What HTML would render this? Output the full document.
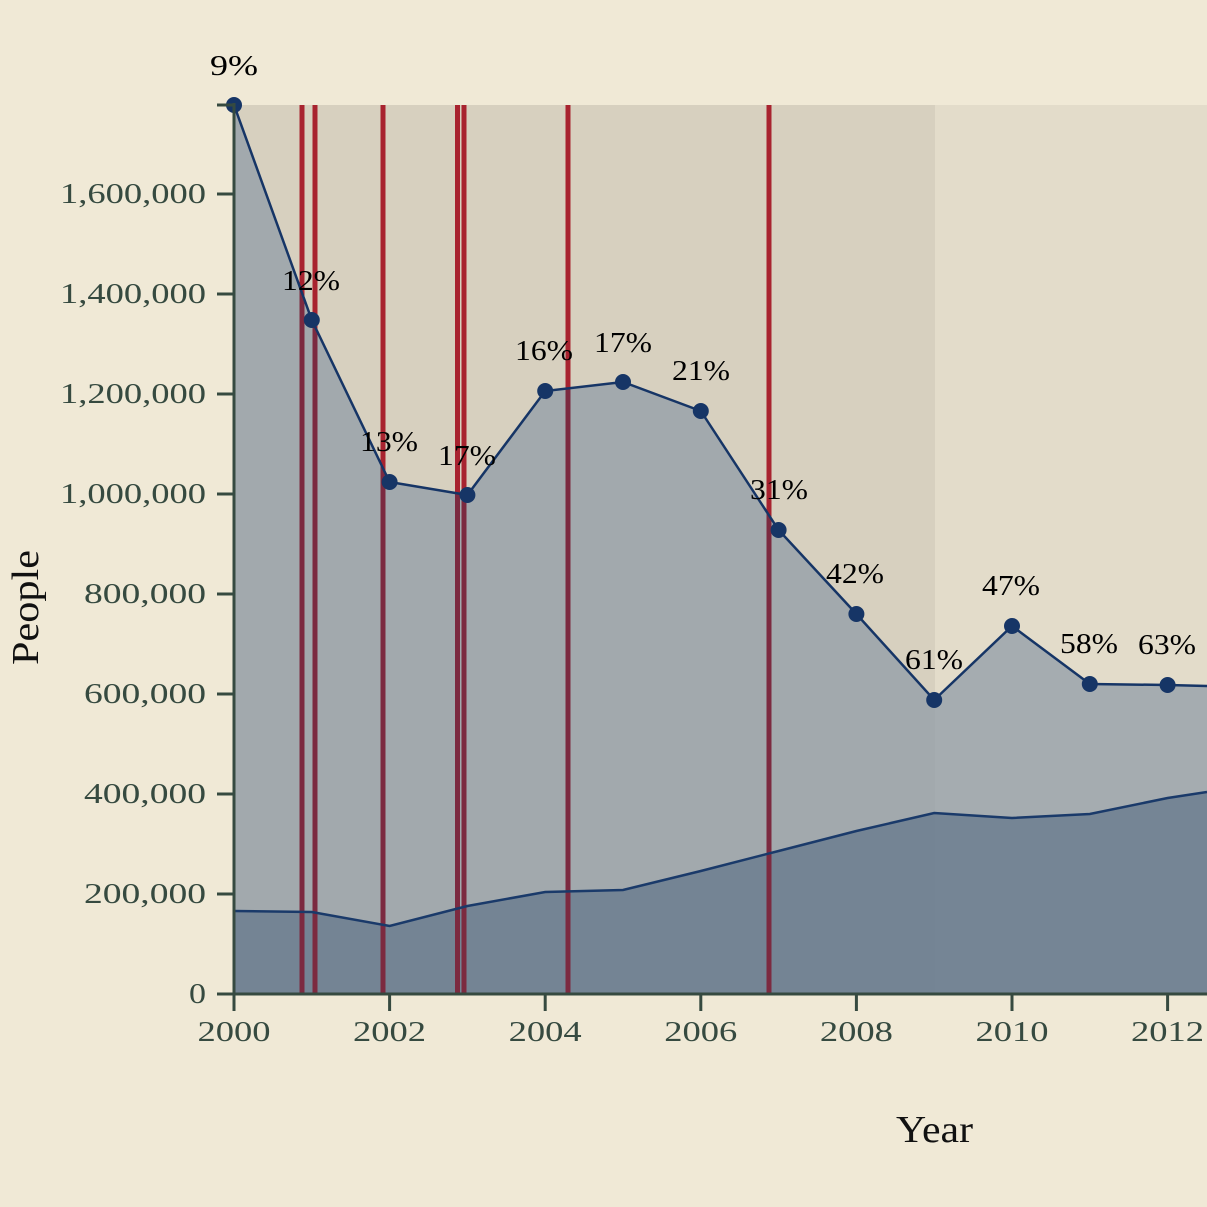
<!DOCTYPE html>
<html><head><meta charset="utf-8"><style>
html,body{margin:0;padding:0;background:#f0e9d6;}
svg{display:block;font-family:"Liberation Serif",serif;}
</style></head><body>
<svg width="1207" height="1207" viewBox="0 0 1207 1207">
<defs>
<clipPath id="up"><polygon points="234,105 311.8,320 389.6,482 467.4,495 545.2,391 623,382 700.8,411 778.6,530 856.4,614 934.2,700 1012,626 1089.8,684 1167.6,685 1207,686 1207,994 234,994"/></clipPath>
</defs>
<rect width="1207" height="1207" fill="#f0e9d6"/>
<rect x="234" y="105" width="701" height="889" fill="#d7d0bf"/>
<rect x="935" y="105" width="272" height="889" fill="#e3dcca"/>
<g fill="#a8232f">
<rect x="299.5" y="105" width="5" height="889"/>
<rect x="312.5" y="105" width="5" height="889"/>
<rect x="380.5" y="105" width="5" height="889"/>
<rect x="455" y="105" width="5" height="889"/>
<rect x="461.5" y="105" width="5" height="889"/>
<rect x="565.5" y="105" width="5" height="889"/>
<rect x="766.5" y="105" width="5" height="889"/>
</g>
<polygon points="234,105 311.8,320 389.6,482 467.4,495 545.2,391 623,382 700.8,411 778.6,530 856.4,614 934.2,700 1012,626 1089.8,684 1167.6,685 1207,686 1207,994 234,994" fill="#8e9aa6" opacity="0.72"/>
<polygon points="234,911 311.8,912 389.6,926 467.4,906 545.2,892 623,890 700.8,871 778.6,851 856.4,831 934.2,813 1012,818 1089.8,814 1167.6,798 1207,792 1207,994 234,994" fill="#4f6680" opacity="0.55"/>
<g fill="#7c2a40" clip-path="url(#up)">
<rect x="299.5" y="105" width="5" height="889"/>
<rect x="312.5" y="105" width="5" height="889"/>
<rect x="380.5" y="105" width="5" height="889"/>
<rect x="455" y="105" width="5" height="889"/>
<rect x="461.5" y="105" width="5" height="889"/>
<rect x="565.5" y="105" width="5" height="889"/>
<rect x="766.5" y="105" width="5" height="889"/>
</g>
<polyline points="234,911 311.8,912 389.6,926 467.4,906 545.2,892 623,890 700.8,871 778.6,851 856.4,831 934.2,813 1012,818 1089.8,814 1167.6,798 1207,792" fill="none" stroke="#1a3a6a" stroke-width="2.5"/>
<polyline points="234,105 311.8,320 389.6,482 467.4,495 545.2,391 623,382 700.8,411 778.6,530 856.4,614 934.2,700 1012,626 1089.8,684 1167.6,685 1207,686" fill="none" stroke="#163566" stroke-width="2.5"/>
<g fill="#163566">
<circle cx="234" cy="105" r="8"/><circle cx="311.8" cy="320" r="8"/><circle cx="389.6" cy="482" r="8"/><circle cx="467.4" cy="495" r="8"/><circle cx="545.2" cy="391" r="8"/><circle cx="623" cy="382" r="8"/><circle cx="700.8" cy="411" r="8"/><circle cx="778.6" cy="530" r="8"/><circle cx="856.4" cy="614" r="8"/><circle cx="934.2" cy="700" r="8"/><circle cx="1012" cy="626" r="8"/><circle cx="1089.8" cy="684" r="8"/><circle cx="1167.6" cy="685" r="8"/>
</g>
<g stroke="#364a40" stroke-width="3">
<line x1="234" y1="103" x2="234" y2="995"/>
<line x1="233" y1="994" x2="1207" y2="994"/>
<line x1="217" y1="105" x2="234" y2="105"/>
<line x1="217" y1="194" x2="234" y2="194"/><line x1="217" y1="294" x2="234" y2="294"/><line x1="217" y1="394" x2="234" y2="394"/><line x1="217" y1="494" x2="234" y2="494"/><line x1="217" y1="594" x2="234" y2="594"/><line x1="217" y1="694" x2="234" y2="694"/><line x1="217" y1="794" x2="234" y2="794"/><line x1="217" y1="894" x2="234" y2="894"/><line x1="217" y1="994" x2="234" y2="994"/>
<line x1="234" y1="994" x2="234" y2="1011"/><line x1="389.6" y1="994" x2="389.6" y2="1011"/><line x1="545.2" y1="994" x2="545.2" y2="1011"/><line x1="700.8" y1="994" x2="700.8" y2="1011"/><line x1="856.4" y1="994" x2="856.4" y2="1011"/><line x1="1012" y1="994" x2="1012" y2="1011"/><line x1="1167.6" y1="994" x2="1167.6" y2="1011"/>
</g>
<g fill="#364a40" font-size="28" lengthAdjust="spacingAndGlyphs">
<text x="60" y="203" textLength="146" lengthAdjust="spacingAndGlyphs">1,600,000</text><text x="60" y="303" textLength="146" lengthAdjust="spacingAndGlyphs">1,400,000</text><text x="60" y="403" textLength="146" lengthAdjust="spacingAndGlyphs">1,200,000</text><text x="60" y="503" textLength="146" lengthAdjust="spacingAndGlyphs">1,000,000</text><text x="84" y="603" textLength="122" lengthAdjust="spacingAndGlyphs">800,000</text><text x="84" y="703" textLength="122" lengthAdjust="spacingAndGlyphs">600,000</text><text x="84" y="803" textLength="122" lengthAdjust="spacingAndGlyphs">400,000</text><text x="84" y="903" textLength="122" lengthAdjust="spacingAndGlyphs">200,000</text><text x="189" y="1003" textLength="17" lengthAdjust="spacingAndGlyphs">0</text>
</g>
<g fill="#364a40" font-size="28">
<text x="197.5" y="1041" textLength="73" lengthAdjust="spacingAndGlyphs">2000</text><text x="353" y="1041" textLength="73" lengthAdjust="spacingAndGlyphs">2002</text><text x="508.7" y="1041" textLength="73" lengthAdjust="spacingAndGlyphs">2004</text><text x="664.3" y="1041" textLength="73" lengthAdjust="spacingAndGlyphs">2006</text><text x="819.9" y="1041" textLength="73" lengthAdjust="spacingAndGlyphs">2008</text><text x="975.5" y="1041" textLength="73" lengthAdjust="spacingAndGlyphs">2010</text><text x="1131" y="1041" textLength="73" lengthAdjust="spacingAndGlyphs">2012</text>
</g>
<text x="896" y="1142" font-size="38" textLength="77" lengthAdjust="spacingAndGlyphs" fill="#111">Year</text>
<text transform="translate(38,665) rotate(-90)" font-size="38" textLength="115" lengthAdjust="spacingAndGlyphs" fill="#111">People</text>
<g font-size="28" fill="#000">
<text x="210" y="75" textLength="48" lengthAdjust="spacingAndGlyphs">9%</text><text x="282" y="290" textLength="58" lengthAdjust="spacingAndGlyphs">12%</text><text x="360" y="451" textLength="58" lengthAdjust="spacingAndGlyphs">13%</text><text x="438" y="465" textLength="58" lengthAdjust="spacingAndGlyphs">17%</text><text x="515" y="360" textLength="58" lengthAdjust="spacingAndGlyphs">16%</text><text x="594" y="352" textLength="58" lengthAdjust="spacingAndGlyphs">17%</text><text x="672" y="380" textLength="58" lengthAdjust="spacingAndGlyphs">21%</text><text x="750" y="499" textLength="58" lengthAdjust="spacingAndGlyphs">31%</text><text x="826" y="583" textLength="58" lengthAdjust="spacingAndGlyphs">42%</text><text x="905" y="669" textLength="58" lengthAdjust="spacingAndGlyphs">61%</text><text x="982" y="595" textLength="58" lengthAdjust="spacingAndGlyphs">47%</text><text x="1060" y="653" textLength="58" lengthAdjust="spacingAndGlyphs">58%</text><text x="1138" y="654" textLength="58" lengthAdjust="spacingAndGlyphs">63%</text>
</g>
</svg>
</body></html>
